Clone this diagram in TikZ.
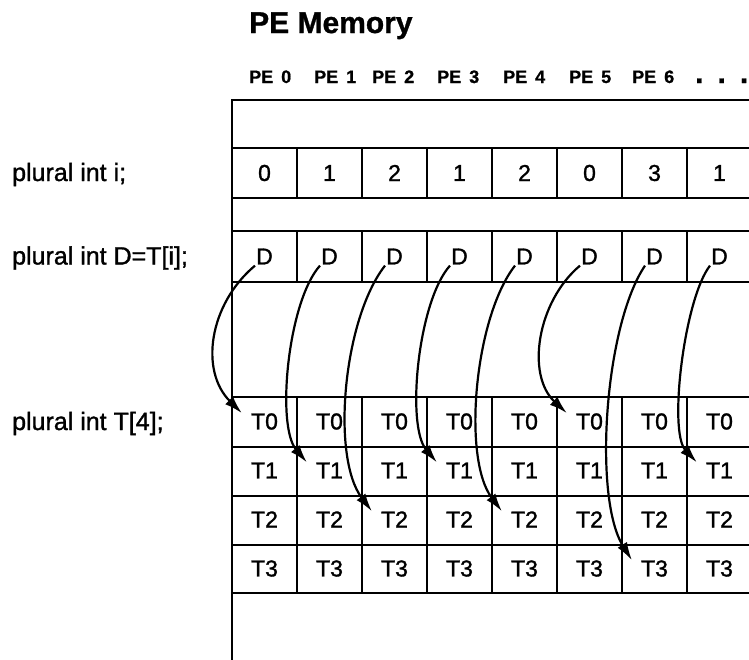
\documentclass[tikz,border=0pt]{standalone}
\usepackage{fontspec}
\setmainfont{Liberation Sans}
\newfontfamily\heavyfont{Liberation Sans}[FakeBold=1.3]
\newfontfamily\heavyboldfont{Liberation Sans Bold}[FakeBold=1]
\usetikzlibrary{arrows.meta}
\begin{document}
\begin{tikzpicture}[x=1pt,y=1pt,
  gridline/.style={line width=2.6pt, line cap=rect},
  celltext/.style={font=\heavyfont\fontsize{23}{25}\selectfont, inner sep=1pt},
  codelabel/.style={font=\heavyfont\fontsize{25}{27}\selectfont, anchor=base west, inner sep=0pt},
  pelabel/.style={font=\heavyboldfont\fontsize{18}{20}\selectfont, anchor=base west, inner sep=0pt},
  titlelabel/.style={font=\heavyboldfont\fontsize{30}{32}\selectfont, anchor=base west, inner sep=0pt},
  ptr/.style={line width=2.2pt, -{Latex[length=18pt,width=11pt]}},
]
\useasboundingbox (0,0) rectangle (749,-659);

% title and PE headers
\node[titlelabel] (title) at (249,-33) {PE Memory};
\foreach \x [count=\k from 0] in {249,314,372,437,503,569,632}
  \node[pelabel] (pe\k) at (\x,-83) {PE\kern8pt\k};
\node[font=\heavyboldfont\fontsize{30}{32}\selectfont, anchor=base west, inner sep=0pt] (dots) at (695,-83) {.\kern14pt.\kern14pt.};

% code labels
\node[codelabel] (li) at (12,-181) {plural int i;};
\node[codelabel] (ld) at (12,-264.5) {plural int D=T[i];};
\node[codelabel] (lt) at (12,-430) {plural int T[4];};

% horizontal grid lines
\foreach \y in {100,148,198,231,282,397,447,496,545,593}
  \draw[gridline] (232,-\y) -- (760,-\y);
% left edge
\draw[gridline] (232,-100) -- (232,-670);
% vertical cell separators
\foreach \k in {1,...,7}{
  \draw[gridline] ({232+65*\k},-148) -- ({232+65*\k},-198);
  \draw[gridline] ({232+65*\k},-231) -- ({232+65*\k},-282);
  \draw[gridline] ({232+65*\k},-397) -- ({232+65*\k},-593);
}

% cell contents
\foreach \v [count=\k from 0] in {0,1,2,1,2,0,3,1}
  \node[celltext] (v\k) at ({264.5+65*\k},-173) {\v};
\foreach \k in {0,...,7}
  \node[celltext] (d\k) at ({264.5+65*\k},-256.5) {D};
\foreach \r in {0,...,3}
  \foreach \k in {0,...,7}
    \node[celltext] (t\r\k) at ({264.5+65*\k},{-421.5-49*\r}) {T\r};

% pointer arrows D -> T[i]
\foreach \k/\r/\ao/\ai/\cl in {0/0/220/135/60, 1/1/228/130/48, 2/2/232/127/68, 3/1/228/130/48,
                              4/2/232/127/66, 5/0/220/137/56, 6/3/236/122/73, 7/1/232/133/42}
  \draw[ptr] (d\k.south west) .. controls +(\ao:\cl) and +(\ai:\cl) .. ([xshift=-8pt,yshift=-1pt]t\r\k.north west);
\end{tikzpicture}
\end{document}
